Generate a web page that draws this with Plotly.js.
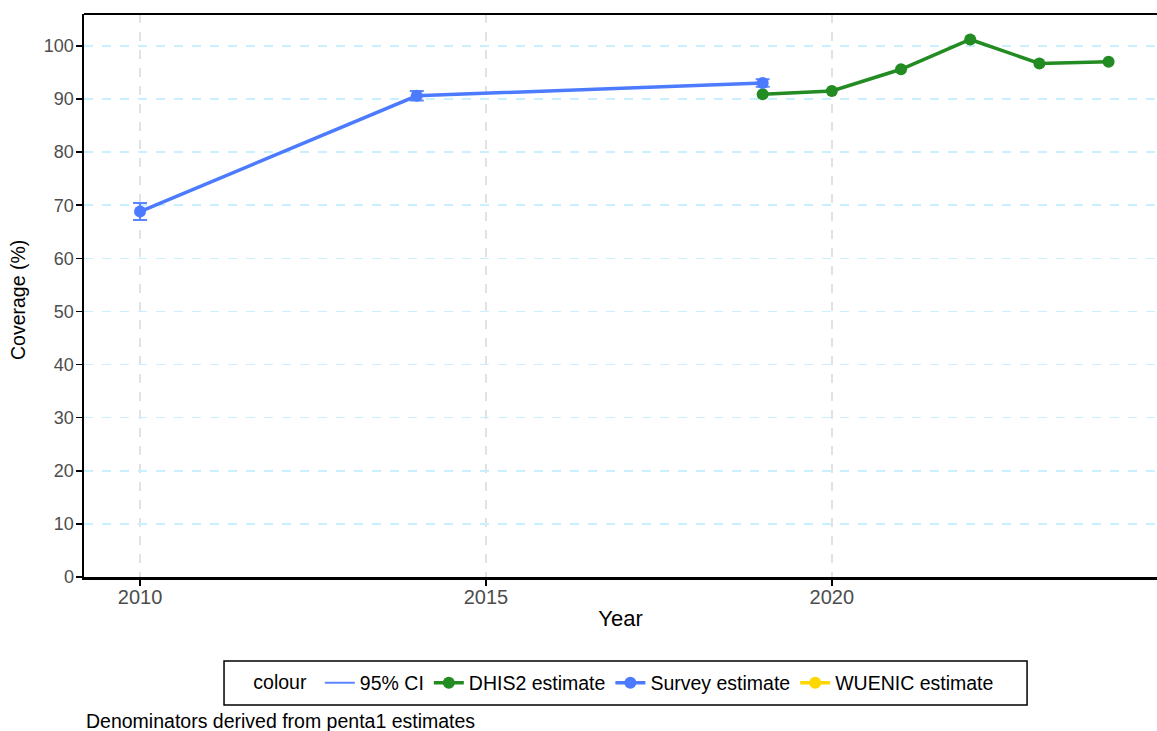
<!DOCTYPE html>
<html>
<head>
<meta charset="utf-8">
<script src="https://cdn.plot.ly/plotly-3.0.1.min.js"></script>
<style>
  html, body { margin: 0; padding: 0; background: #ffffff; }
  #chart { width: 1157px; height: 731px; }
</style>
</head>
<body>
<div id="chart"></div>
<script>
// Penta1 coverage by year: household survey estimates (with 95% CI) and DHIS2 estimates
const surveyYears = [2010, 2014, 2019];
const surveyCoverage = [68.8, 90.6, 93.0];
const surveyUpper = [70.4, 91.5, 93.7];
const surveyLower = [67.2, 89.7, 92.3];

const dhis2Years = [2019, 2020, 2021, 2022, 2023, 2024];
const dhis2Coverage = [90.9, 91.5, 95.6, 101.2, 96.7, 97.0];

const xTicks = [2010, 2015, 2020];
const yTicks = [0, 10, 20, 30, 40, 50, 60, 70, 80, 90, 100];

const blue = '#4C7BFF';
const ciBlue = '#5B86FF';
const green = '#228B22';
const gold = '#FFD700';
const font = 'Liberation Sans, Arial, sans-serif';

const traces = [
  {
    name: '95% CI', x: [null], y: [null], type: 'scatter', mode: 'lines',
    line: { color: ciBlue, width: 2 }, hoverinfo: 'skip'
  },
  {
    name: 'DHIS2 estimate', x: dhis2Years, y: dhis2Coverage, type: 'scatter',
    mode: 'lines+markers', line: { color: green, width: 3.5 },
    marker: { color: green, size: 12 }
  },
  {
    name: 'Survey estimate', x: surveyYears, y: surveyCoverage, type: 'scatter',
    mode: 'lines+markers', line: { color: blue, width: 3.5 },
    marker: { color: blue, size: 12 },
    error_y: {
      type: 'data', symmetric: false,
      array: surveyUpper.map((u, i) => u - surveyCoverage[i]),
      arrayminus: surveyCoverage.map((c, i) => c - surveyLower[i]),
      color: ciBlue, thickness: 2, width: 7
    }
  },
  {
    name: 'WUENIC estimate', x: [null], y: [null], type: 'scatter',
    mode: 'lines+markers', line: { color: gold, width: 3.5 },
    marker: { color: gold, size: 12 }, hoverinfo: 'skip'
  }
];

const layout = {
  width: 1157, height: 731,
  margin: { l: 84, r: 0, t: 14, b: 154 },
  paper_bgcolor: '#ffffff', plot_bgcolor: '#ffffff',
  font: { family: font, color: '#000000' },
  showlegend: true,
  xaxis: {
    range: [2009.19, 2024.7],
    tickvals: xTicks, ticktext: xTicks.map(String),
    ticks: 'outside', ticklen: 6, tickwidth: 1.5, tickcolor: '#000000',
    ticklabelstandoff: -6,
    tickfont: { family: font, size: 20, color: '#4d4d4d' },
    showline: true, linecolor: '#000000', linewidth: 2.5,
    showgrid: true, gridcolor: '#e2e2e2', gridwidth: 1.5, griddash: 'dash',
    zeroline: false,
    title: { text: 'Year', font: { family: font, size: 22, color: '#000000' }, standoff: 4 }
  },
  yaxis: {
    range: [0, 106],
    tickvals: yTicks,
    ticks: 'outside', ticklen: 6, tickwidth: 1.5, tickcolor: '#000000',
    ticklabelstandoff: -2,
    tickfont: { family: font, size: 18, color: '#4d4d4d' },
    showline: true, linecolor: '#000000', linewidth: 2.5,
    showgrid: true, gridcolor: '#c9f0ff', gridwidth: 1.5, griddash: 'dash',
    zeroline: false
  },
  legend: {
    orientation: 'h', x: 0.5045, xanchor: 'center', y: -0.1883, yanchor: 'middle',
    borderwidth: 0, bgcolor: 'rgba(0,0,0,0)',
    font: { family: font, size: 19.5, color: '#000000' },
    title: { text: 'colour ', font: { family: font, size: 19.5, color: '#000000' } },
    traceorder: 'normal', itemwidth: 30
  },
  shapes: [
    // top panel border
    { type: 'line', xref: 'paper', yref: 'paper', x0: 0, x1: 1, y0: 1, y1: 1,
      line: { color: '#000000', width: 2 } },
    // legend frame
    { type: 'rect', xref: 'paper', yref: 'paper', x0: 0.1305, x1: 0.8789, y0: -0.1492, y1: -0.2274,
      line: { color: '#000000', width: 1.5 }, fillcolor: 'rgba(0,0,0,0)' }
  ],
  annotations: [
    // y-axis title
    { text: 'Coverage (%)', xref: 'paper', yref: 'paper', x: -0.0615, y: 0.492,
      xanchor: 'center', yanchor: 'middle', textangle: -90, showarrow: false,
      font: { family: font, size: 19.5, color: '#000000' } },
    // caption
    { text: 'Denominators derived from penta1 estimates', xref: 'paper', yref: 'paper',
      x: 0, y: -0.256, xanchor: 'left', yanchor: 'middle', showarrow: false,
      font: { family: font, size: 19.5, color: '#000000' } }
  ]
};

Plotly.newPlot('chart', traces, layout, { displayModeBar: false, staticPlot: true });
</script>
</body>
</html>
